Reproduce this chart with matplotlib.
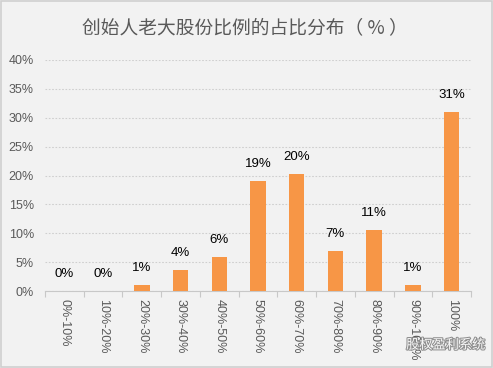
import matplotlib.pyplot as plt
import matplotlib.patheffects as pe
import numpy as np
import matplotlib.ticker as ticker
from matplotlib.patches import Rectangle

plt.rcParams['font.family'] = ['Liberation Sans', 'Noto Sans CJK SC', 'DejaVu Sans']

# Data
categories = ["0%-10%", "10%-20%", "20%-30%", "30%-40%", "40%-50%", "50%-60%",
              "60%-70%", "70%-80%", "80%-90%", "90%-100%", "100%"]
values = [0.0, 0.0, 1.1, 3.6, 5.9, 19.1, 20.3, 7.0, 10.6, 1.1, 31.0]
value_labels = ["0%", "0%", "1%", "4%", "6%", "19%", "20%", "7%", "11%", "1%", "31%"]
title = "创始人老大股份比例的占比分布（ % ）"

bg = "#f2f2f2"
bar_color = "#f79646"
text_grey = "#595959"
cjk = ['Noto Sans CJK SC', 'DejaVu Sans']

fig = plt.figure(figsize=(4.93, 3.68), dpi=100, facecolor=bg)
fig.patches.append(Rectangle((0.002, 0.003), 0.996, 0.994, transform=fig.transFigure,
                             fill=False, edgecolor="#d0d0d0", linewidth=1.2))
ax = fig.add_axes([0.0913, 0.209, 0.864, 0.628])
ax.set_facecolor(bg)

x = np.arange(len(categories))
ax.bar(x, values, width=0.4, color=bar_color, zorder=3)

# value labels above the bars
for xi, v, lab in zip(x, values, value_labels):
    ax.annotate(lab, (xi, v), xytext=(0, 8), textcoords="offset points",
                ha="center", va="bottom", fontsize=9.5, color="black")

ax.set_xlim(-0.5, len(categories) - 0.5)
ax.set_ylim(0, 40)
ax.yaxis.set_major_locator(ticker.MultipleLocator(5))
ax.yaxis.set_major_formatter(ticker.FuncFormatter(lambda v, p: f"{int(v)}%"))
ax.grid(axis="y", linestyle=(0, (1.5, 1.5)), color="#cfcfcf", linewidth=0.8, zorder=0)

# category labels, rotated, ticks at category boundaries
ax.set_xticks(x)
ax.set_xticklabels(categories, rotation=270, fontsize=9, color=text_grey, va="top", ha="center")
ax.set_xticks(np.arange(-0.5, len(categories)), minor=True)
ax.tick_params(axis="x", which="major", length=0, pad=6)
ax.tick_params(axis="x", which="minor", length=4, color="#c8c8c8", width=0.8)
ax.tick_params(axis="y", length=0, labelsize=9, labelcolor=text_grey, pad=8)

for side in ["top", "right", "left"]:
    ax.spines[side].set_visible(False)
ax.spines["bottom"].set_color("#c8c8c8")
ax.spines["bottom"].set_linewidth(0.8)

fig.text(0.497, 0.925, title, ha="center", va="center", fontsize=13.5, color=text_grey,
         family=cjk)

# watermark
wm = fig.text(0.985, 0.062, "股权盈利系统", ha="right", va="center", fontsize=9.5,
              color="white", family=cjk, alpha=0.95)
wm.set_path_effects([pe.withStroke(linewidth=1.5, foreground="#8a8a8a")])

fig.savefig("out.png", dpi=100, facecolor=bg)
